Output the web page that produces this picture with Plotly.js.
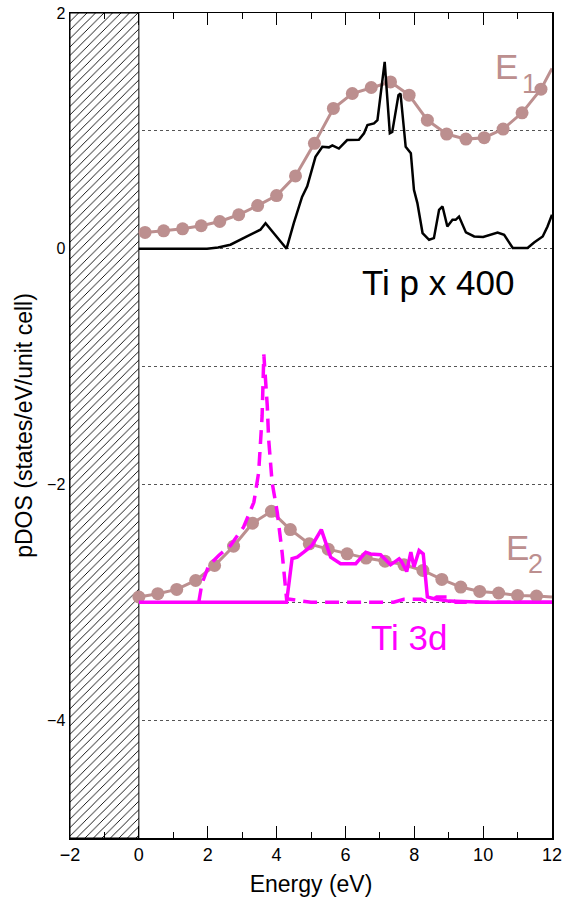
<!DOCTYPE html>
<html>
<head>
<meta charset="utf-8">
<script src="https://cdn.plot.ly/plotly-3.0.1.min.js"></script>
<style>html,body{margin:0;padding:0;background:#fff}</style>
</head>
<body>
<div id="chart" style="width:567px;height:902px"></div>
<script>
// E1 (upper panel, brown dots)
const e1X = [0.18, 0.72, 1.27, 1.81, 2.35, 2.90, 3.45, 4.00, 4.55, 5.10, 5.65, 6.20, 6.75, 7.31, 7.85, 8.38, 8.94, 9.50, 10.03, 10.58, 11.13, 11.68];
const e1Y = [0.138, 0.152, 0.169, 0.195, 0.231, 0.288, 0.366, 0.451, 0.618, 0.894, 1.190, 1.317, 1.368, 1.415, 1.303, 1.091, 0.973, 0.930, 0.942, 1.015, 1.153, 1.354];
const e1LineEndsX = [0.0, 12.0];
const e1LineEndsY = [0.13, 1.53];

// Ti p x 400 (black)
const tipX = [0, 1.98, 2.30, 2.66, 3.14, 3.53, 3.68, 4.29, 4.50, 4.74, 4.89, 5.13, 5.33, 5.52, 5.62, 5.81, 6.05, 6.39, 6.54, 6.64, 6.83, 6.93, 7.14, 7.29, 7.36, 7.54, 7.60, 7.75, 7.90, 7.99, 8.09, 8.24, 8.43, 8.57, 8.72, 8.82, 8.96, 9.11, 9.20, 9.30, 9.50, 9.74, 10.00, 10.42, 10.61, 10.86, 11.29, 11.48, 11.73, 11.87, 12.0];
const tipY = [0, 0, 0.01, 0.034, 0.104, 0.161, 0.217, 0, 0.217, 0.44, 0.53, 0.78, 0.865, 0.86, 0.877, 0.85, 0.922, 0.924, 0.979, 1.049, 1.063, 1.091, 1.585, 0.979, 0.99, 1.303, 1.317, 0.865, 0.81, 0.5, 0.387, 0.133, 0.076, 0.09, 0.33, 0.358, 0.189, 0.245, 0.245, 0.273, 0.138, 0.104, 0.10, 0.138, 0.118, 0.006, 0.006, 0.053, 0.104, 0.189, 0.288];

// E2 (lower panel, brown dots)
const e2X = [0, 0.55, 1.1, 1.65, 2.2, 2.75, 3.3, 3.85, 4.4, 4.95, 5.5, 6.05, 6.6, 7.15, 7.7, 8.25, 8.8, 9.35, 9.9, 10.45, 11.0, 11.55];
const e2Y = [-2.955, -2.927, -2.891, -2.815, -2.688, -2.524, -2.329, -2.228, -2.383, -2.504, -2.549, -2.589, -2.625, -2.651, -2.682, -2.730, -2.806, -2.871, -2.908, -2.921, -2.942, -2.947];
const e2LineEndsX = [12.0];
const e2LineEndsY = [-2.955];

// Ti 3d solid (magenta)
const ti3dSolidX = [0, 4.29, 4.45, 4.60, 4.79, 5.03, 5.30, 5.57, 5.86, 6.30, 6.59, 6.73, 7.02, 7.10, 7.31, 7.56, 7.62, 7.78, 7.90, 7.99, 8.14, 8.26, 8.38, 8.57, 9.0, 10, 11, 12];
const ti3dSolidY = [-3.0, -3.0, -2.63, -2.617, -2.575, -2.518, -2.383, -2.617, -2.673, -2.673, -2.575, -2.59, -2.597, -2.62, -2.682, -2.631, -2.65, -2.739, -2.575, -2.70, -2.561, -2.589, -2.955, -2.97, -2.99, -3.0, -3.0, -3.0];

// Ti 3d dashed (magenta)
const ti3dDashX = [1.74, 1.83, 2.03, 2.32, 2.66, 3.04, 3.34, 3.48, 3.58, 3.63, 3.73, 3.77, 3.87, 4.02, 4.16, 4.29, 5.0, 6.0, 7.0, 7.4, 7.7, 8.2, 8.4, 8.65, 9.0, 9.2, 10, 11, 12];
const ti3dDashY = [-3.0, -2.843, -2.688, -2.603, -2.518, -2.363, -2.152, -1.898, -1.419, -0.897, -1.334, -1.616, -1.982, -2.236, -2.575, -2.97, -3.0, -3.0, -3.0, -3.0, -2.975, -2.975, -3.0, -2.955, -2.955, -3.0, -3.0, -3.0, -3.0];

// Hatched occupied region (below Fermi level)
const hatchX = [-1];
const hatchWidth = [2];
const hatchBase = [-5];
const hatchHeight = [7];

const yTickVals = [-4, -3, -2, -1, 0, 1, 2];
const yTickText = ['\u22124', '', '\u22122', '', '0', '', '2'];
const xTickVals = [-2, 0, 2, 4, 6, 8, 10, 12];
const xTickText = ['\u22122', '0', '2', '4', '6', '8', '10', '12'];

const brown = '#bc8f8f';
const magenta = '#ff00ff';
const FONT = 'Liberation Sans, Arial, sans-serif';

const traces = [
  {type: 'bar', x: hatchX, y: hatchHeight, base: hatchBase, width: hatchWidth,
   marker: {color: 'white', line: {color: 'black', width: 1},
            pattern: {shape: '/', fgcolor: 'black', bgcolor: 'white', size: 6, solidity: 0.15}},
   hoverinfo: 'skip', showlegend: false},
  {type: 'scatter', mode: 'lines', x: [e1LineEndsX[0]].concat(e1X, [e1LineEndsX[1]]),
   y: [e1LineEndsY[0]].concat(e1Y, [e1LineEndsY[1]]),
   line: {color: brown, width: 3}, showlegend: false},
  {type: 'scatter', mode: 'markers', x: e1X, y: e1Y,
   marker: {color: brown, size: 13}, showlegend: false},
  {type: 'scatter', mode: 'lines', x: tipX, y: tipY,
   line: {color: 'black', width: 2.5}, showlegend: false},
  {type: 'scatter', mode: 'lines', x: e2X.concat(e2LineEndsX), y: e2Y.concat(e2LineEndsY),
   line: {color: brown, width: 3}, showlegend: false},
  {type: 'scatter', mode: 'markers', x: e2X, y: e2Y,
   marker: {color: brown, size: 13}, showlegend: false},
  {type: 'scatter', mode: 'lines', x: ti3dDashX, y: ti3dDashY,
   line: {color: magenta, width: 3.5, dash: '14px,8px'}, showlegend: false},
  {type: 'scatter', mode: 'lines', x: ti3dSolidX, y: ti3dSolidY,
   line: {color: magenta, width: 3.5}, showlegend: false}
];

const layout = {
  width: 567, height: 902,
  margin: {l: 70, r: 15, t: 13, b: 64, pad: 0},
  paper_bgcolor: 'white', plot_bgcolor: 'white',
  font: {family: FONT, color: 'black'},
  showlegend: false,
  bargap: 0,
  xaxis: {
    range: [-2, 12], tickvals: xTickVals, ticktext: xTickText,
    ticks: 'inside', ticklen: 12, tickcolor: 'black', tickwidth: 1,
    minor: {dtick: 1, tick0: 0, ticks: 'inside', ticklen: 6, tickcolor: 'black', showgrid: false},
    showline: true, linecolor: 'black', linewidth: 1.5, mirror: 'ticks',
    showgrid: false, zeroline: false,
    tickfont: {size: 18, family: FONT},
    title: {text: 'Energy (eV)', font: {size: 23, family: FONT}, standoff: 12}
  },
  yaxis: {
    range: [-5, 2], tickvals: yTickVals, ticktext: yTickText,
    ticks: '', showline: true, linecolor: 'black', linewidth: 1.5, mirror: true,
    showgrid: true, gridcolor: '#555', griddash: 'dot', gridwidth: 1,
    zeroline: false,
    tickfont: {size: 16, family: FONT},
    title: {text: 'pDOS (states/eV/unit cell)', font: {size: 23, family: FONT}, standoff: 8}
  },
  annotations: [
    {x: 10.30, y: 1.55, xref: 'x', yref: 'y', text: 'E', showarrow: false, xanchor: 'left', yanchor: 'middle',
     font: {size: 35, color: brown, family: FONT}},
    {x: 11.06, y: 1.40, xref: 'x', yref: 'y', text: '1', showarrow: false, xanchor: 'left', yanchor: 'middle',
     font: {size: 27, color: brown, family: FONT}},
    {x: 10.60, y: -2.534, xref: 'x', yref: 'y', text: 'E', showarrow: false, xanchor: 'left', yanchor: 'middle',
     font: {size: 35, color: brown, family: FONT}},
    {x: 11.25, y: -2.675, xref: 'x', yref: 'y', text: '2', showarrow: false, xanchor: 'left', yanchor: 'middle',
     font: {size: 27, color: brown, family: FONT}},
    {x: 8.70, y: -0.29, xref: 'x', yref: 'y', text: 'Ti p x 400', showarrow: false, xanchor: 'center', yanchor: 'middle',
     font: {size: 35, color: 'black', family: FONT}},
    {x: 7.87, y: -3.30, xref: 'x', yref: 'y', text: 'Ti 3d', showarrow: false, xanchor: 'center', yanchor: 'middle',
     font: {size: 35, color: magenta, family: FONT}}
  ]
};

Plotly.newPlot('chart', traces, layout, {displayModeBar: false, staticPlot: true});
</script>
</body>
</html>
